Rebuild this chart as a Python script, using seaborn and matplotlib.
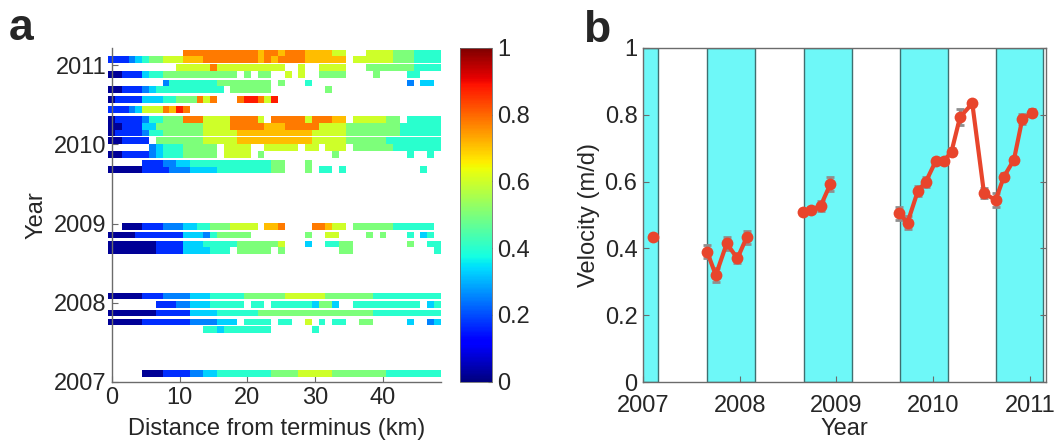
# Imports

import numpy             as np
import pandas            as pd
import seaborn           as sns
import matplotlib.pyplot as plt

#####

# Panel a : one row per acquisition, speed per 1 km bin from the terminus (bin centres 0 .. 48 km)
# each character is one bin, read through speed_level ; "." -> no data (spaces only group bins by ten)

distance_km = list(range(0, 49))

speed_level = {"0": 0.02, "1": 0.17, "2": 0.25, "3": 0.33, "4": 0.40,
               "5": 0.50, "6": 0.60, "7": 0.71, "8": 0.78, "9": 0.88}

row_years = [2007.100,
             2007.662, 2007.756, 2007.870, 2007.978, 2008.085,
             2008.658, 2008.743, 2008.857, 2008.962,
             2009.680, 2009.763, 2009.873, 2009.958, 2010.051, 2010.143, 2010.228, 2010.313,
             2010.443, 2010.566, 2010.692, 2010.776, 2010.886, 2010.971, 2011.076, 2011.156]

row_values = [
    ".....00011 1122334444 4444555566 6665555555 544444444",
    ".......... ....443444 4444...... 4......... .........",
    "0000011111 112222333. 4444.44..6 .4.44..55. ....3..23",
    "0000000111 1133334444 4455555555 5555555554 444444444",
    ".......111 2233344444 .44.444444 3553..4444 444444.34",
    "0000011122 2233344444 5555556666 6655555554 444444444",
    "0000000111 13333444.5 5555.5.... ....55.... ........4",
    "0000000111 1333444445 555556...3 ..4455.... ....5..44",
    "0000111111 1333245555 5........5 ..66....5. 5...4.34.",
    "..00011122 2334455566 66.778.... 88766.5555 55444444.",
    "0000011112 2233334444 444455...5 .44.4..... ......4..",
    ".....11122 3344444444 444455...5 .......... .........",
    "0011112344 455555.666 6.5....... ...5...... ....4..4.",
    "......2344 455555.666 6..66666.6 6.666.5555 554444444",
    "001111.555 5555666667 7777777777 6666655555 544444444",
    "0111124455 5555666667 7777777777 6666655555 555444444",
    "0011133555 5555666688 8887778888 8666655555 555444444",
    "0111124455 5888666688 886.888886 88877.6666 655.44444",
    "1112366687 98........ .......... .......... .........",
    "0111133344 555868...8 99869..... .......... .........",
    "0011123444 4444444.55 5555...... ..5....... .........",
    "........24 4444445555 5555.5...4 .......... ....2.33.",
    "0011134455 555555555. 5.55..6.6. .5555....5 ....44...",
    ".......... 6666686666 666666..6. .6666...55 555554444",
    "1112345566 6777888888 8878788887 77777.6666 665554444",
    ".......... .888888888 8878878887 77766...66 665554444",
]

cbar_ticks  = [0, 0.2, 0.4, 0.6, 0.8, 1]
cbar_labels = ["0", "0.2", "0.4", "0.6", "0.8", "1"]
dist_ticks  = [0, 10, 20, 30, 40]
year_ticks  = [2007, 2008, 2009, 2010, 2011]

# Panel b : mean velocity per acquisition, grouped by season

vel_years  = [2007.106,
              2007.663, 2007.753, 2007.866, 2007.976, 2008.072,
              2008.653, 2008.739, 2008.838, 2008.938,
              2009.650, 2009.735, 2009.842, 2009.925, 2010.028, 2010.113, 2010.190, 2010.278,
              2010.405, 2010.526, 2010.646, 2010.732, 2010.835, 2010.921, 2011.024]
velocity   = [0.433,
              0.390, 0.320, 0.415, 0.370, 0.433,
              0.508, 0.515, 0.528, 0.593,
              0.505, 0.477, 0.572, 0.600, 0.662, 0.662, 0.690, 0.793,
              0.834, 0.565, 0.545, 0.615, 0.665, 0.786, 0.806]
vel_err    = [0.005,
              0.020, 0.020, 0.020, 0.015, 0.020,
              0.005, 0.010, 0.015, 0.020,
              0.020, 0.020, 0.015, 0.015, 0.010, 0.010, 0.010, 0.025,
              0.005, 0.015, 0.020, 0.010, 0.010, 0.015, 0.010]
season     = [0,
              1, 1, 1, 1, 1,
              2, 2, 2, 2,
              3, 3, 3, 3, 3, 3, 3, 3, 3, 3, 3, 3, 3, 3, 3]

winter_start = [2006.66, 2007.66, 2008.66, 2009.66, 2010.65]
winter_end   = [2007.16, 2008.16, 2009.16, 2010.15, 2011.14]
vel_ticks    = [0, 0.2, 0.4, 0.6, 0.8, 1]
vel_labels   = ["0", "0.2", "0.4", "0.6", "0.8", "1"]

#####

# Appearance

sns.set_style("white")
plt.rcParams["font.family"] = ["Liberation Sans", "DejaVu Sans"]

FS         = 17
AXIS_COLOR = "#6b6b6b"

fig  = plt.figure(figsize = (10.57, 4.44), dpi = 100, facecolor = "white")
ax_a = fig.add_axes([0.1057, 0.1403, 0.3113, 0.7516])
cax  = fig.add_axes([0.4352, 0.1403, 0.0300, 0.7516])
ax_b = fig.add_axes([0.6083, 0.1396, 0.3813, 0.7523])

#####

# Panel a

def decode(row):
    row = row.replace(" ", "")[:len(distance_km)].ljust(len(distance_km), ".")
    return np.array([np.nan if c == "." else speed_level[c] for c in row])

x_edges = np.append(np.array(distance_km) - 0.5, distance_km[-1] + 0.5)
half    = 0.042
mesh    = None
for t, row in zip(row_years, row_values):
    vals = np.ma.masked_invalid(decode(row)[None, :])
    mesh = ax_a.pcolormesh(x_edges, [t - half, t + half], vals, cmap = "jet",
                           vmin = 0, vmax = 1, shading = "flat", clip_on = False, zorder = 1)

ax_a.set_xlim(0, 48.5)
ax_a.set_ylim(2007, 2011.22)
ax_a.set_xticks(dist_ticks)
ax_a.set_yticks(year_ticks)
ax_a.set_xlabel("Distance from terminus (km)", size = FS, labelpad = 6)
ax_a.set_ylabel("Year", size = FS, labelpad = 4)
ax_a.tick_params(direction = "in", length = 4, width = 0.8, color = AXIS_COLOR,
                 labelsize = FS, pad = 4, left = True, bottom = True)
for side in ["top", "right"]:
    ax_a.spines[side].set_visible(False)
for side in ["left", "bottom"]:
    ax_a.spines[side].set_color(AXIS_COLOR)
    ax_a.spines[side].set_linewidth(1.0)
    ax_a.spines[side].set_zorder(3)

cbar = fig.colorbar(mesh, cax = cax, ticks = cbar_ticks)
cbar.ax.set_yticklabels(cbar_labels)
cbar.ax.tick_params(labelsize = FS, length = 3, direction = "in", color = AXIS_COLOR, pad = 4)
cbar.outline.set_edgecolor(AXIS_COLOR)
cbar.outline.set_linewidth(0.6)

#####

# Panel b

vel_df = pd.DataFrame({"year": vel_years, "velocity": velocity, "err": vel_err, "season": season})

for s, e in zip(winter_start, winter_end):
    ax_b.axvspan(s, e, facecolor = "#6ef8f8", edgecolor = "#3f6f70", linewidth = 1.0, zorder = 0)

ax_b.errorbar(vel_df["year"], vel_df["velocity"], yerr = vel_df["err"], fmt = "none",
              ecolor = "#8f8f8f", elinewidth = 2.5, capsize = 3, capthick = 2, zorder = 2)
sns.lineplot(data = vel_df, x = "year", y = "velocity", units = "season", estimator = None,
             color = "#e8452c", linewidth = 3, marker = "o", markersize = 8.5,
             markeredgewidth = 0, ax = ax_b, zorder = 3)

ax_b.set_xlim(2007, 2011.167)
ax_b.set_ylim(0, 1)
ax_b.set_xticks(year_ticks)
ax_b.set_yticks(vel_ticks)
ax_b.set_yticklabels(vel_labels)
ax_b.set_xlabel("Year", size = FS, labelpad = 1)
ax_b.set_ylabel("Velocity (m/d)", size = FS, labelpad = 3)
ax_b.tick_params(direction = "in", length = 4, width = 0.8, color = AXIS_COLOR,
                 labelsize = FS, pad = 4, left = True, right = True, bottom = True)
ax_b.tick_params(axis = "x", pad = 9)
for side in ["left", "bottom", "right", "top"]:
    ax_b.spines[side].set_color(AXIS_COLOR)
    ax_b.spines[side].set_linewidth(1.0)

#####

# Panel letters

fig.text(0.008, 0.910, "a", size = 32, weight = "bold", va = "baseline")
fig.text(0.552, 0.905, "b", size = 32, weight = "bold", va = "baseline")

fig.savefig("out.png", dpi = 100, facecolor = "white")
